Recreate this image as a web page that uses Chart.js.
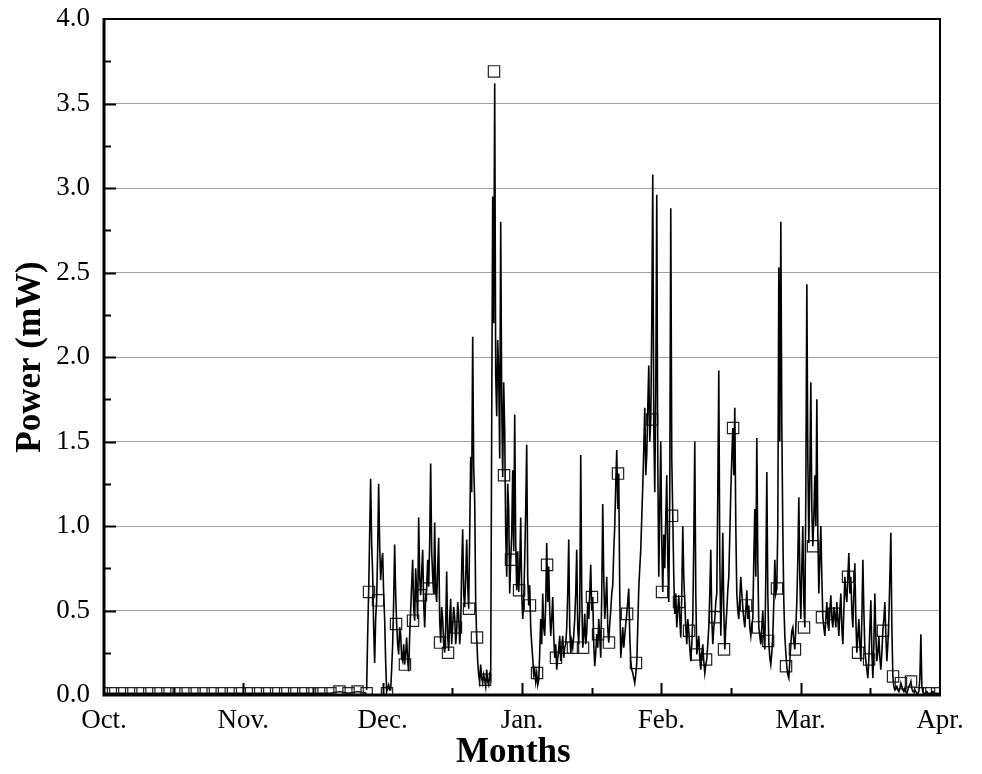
<!DOCTYPE html>
<html>
<head>
  <meta charset="utf-8">
  <title>Power (mW) by month</title>
  <script src="https://cdn.jsdelivr.net/npm/chart.js"></script>
  <style>
    html, body { margin: 0; padding: 0; background: #fff; }
    canvas { display: block; }
  </style>
</head>
<body>
  <canvas id="powerChart" width="982" height="774"></canvas>
  <script>
    // x axis is in months after 1 Oct (0 = Oct., 6 = Apr.)
    const monthLabels = ['Oct.', 'Nov.', 'Dec.', 'Jan.', 'Feb.', 'Mar.', 'Apr.'];

    // Oct.-Nov.: sensor idle, one sample every ~2 days (each one marked)
    const octNovStart = 0;
    const octNovStep = 0.065;
    const octNovPower = [
      0.01, 0.01, 0.01, 0.01, 0.01, 0.01, 0.01, 0.01, 0.01, 0.01,
      0.01, 0.01, 0.01, 0.01, 0.01, 0.01, 0.01, 0.01, 0.01, 0.01,
      0.01, 0.01, 0.01, 0.01, 0.01, 0.01, 0.02, 0.01, 0.02, 0.01
    ];

    // Dec.-Mar.: dense record, one sample every ~0.22 day
    const winterStart = 1.885;
    const winterStep = 0.00718;
    const winterPower = [
      0.03, 0.35, 0.61, 0.95, 1.28, 0.90, 0.72, 0.40, 0.19, 0.45,
      0.56, 0.85, 1.25, 0.90, 0.68, 0.78, 0.84, 0.60, 0.45, 0.20,
      0.02, 0.04, 0.06, 0.03, 0.03, 0.15, 0.30, 0.55, 0.89, 0.60,
      0.42, 0.30, 0.24, 0.40, 0.36, 0.22, 0.20, 0.30, 0.18, 0.25,
      0.34, 0.20, 0.14, 0.35, 0.50, 0.65, 0.80, 0.52, 0.44, 0.75,
      0.62, 0.45, 1.05, 0.70, 0.59, 0.72, 0.86, 0.55, 0.40, 0.58,
      0.63, 0.80, 0.64, 0.90, 1.37, 0.85, 0.70, 0.60, 1.02, 0.62,
      0.55, 0.75, 0.93, 0.45, 0.31, 0.52, 0.45, 0.30, 0.25, 0.40,
      0.73, 0.35, 0.26, 0.45, 0.57, 0.30, 0.41, 0.52, 0.46, 0.30,
      0.38, 0.55, 0.48, 0.30, 0.40, 0.75, 0.98, 0.60, 0.52, 0.70,
      0.92, 0.65, 0.51, 0.95, 1.41, 1.20, 2.12, 1.35, 1.15, 0.55,
      0.34, 0.20, 0.12, 0.08, 0.18, 0.10, 0.07, 0.12, 0.09, 0.05,
      0.15, 0.08, 0.06, 0.12, 0.10, 1.60, 2.95, 2.20, 3.62, 1.90,
      1.65, 2.10, 1.90, 1.40, 2.80, 1.75, 1.29, 1.85, 1.57, 0.95,
      0.70, 1.25, 1.10, 0.60, 0.80, 0.95, 1.33, 0.85, 1.66, 0.90,
      0.62, 0.85, 0.61, 0.75, 1.05, 0.60, 0.45, 0.55, 0.80, 1.10,
      1.48, 0.70, 0.53, 0.65, 0.40, 0.30, 0.22, 0.12, 0.15, 0.08,
      0.13, 0.06, 0.09, 0.25, 0.45, 0.30, 0.60, 0.40, 0.35, 0.55,
      0.90, 0.55, 0.76, 0.50, 0.35, 0.45, 0.58, 0.35, 0.22, 0.30,
      0.15, 0.22, 0.27, 0.35, 0.20, 0.28, 0.35, 0.22, 0.28, 0.30,
      0.40, 0.60, 0.92, 0.40, 0.25, 0.32, 0.28, 0.35, 0.45, 0.60,
      0.86, 0.40, 0.30, 0.50, 1.42, 0.60, 0.28, 0.35, 0.48, 0.30,
      0.37, 0.55, 0.45, 0.60, 0.77, 0.50, 0.58, 0.30, 0.17, 0.25,
      0.36, 0.28, 0.45, 0.35, 0.22, 0.60, 1.13, 0.70, 0.45, 0.55,
      0.70, 0.40, 0.31, 0.42, 0.50, 0.60, 0.65, 0.85, 1.00, 1.25,
      1.45, 1.10, 1.31, 0.60, 0.22, 0.30, 0.40, 0.28, 0.35, 0.42,
      0.48, 0.55, 0.63, 0.35, 0.20, 0.15, 0.13, 0.10, 0.07, 0.12,
      0.19, 0.40, 0.63, 0.75, 0.86, 1.05, 1.24, 1.45, 1.70, 1.30,
      1.42, 1.70, 1.95, 1.50, 1.63, 2.20, 3.08, 1.60, 1.20, 1.80,
      2.96, 1.40, 0.70, 1.10, 1.50, 0.90, 0.61, 0.95, 0.75, 1.05,
      1.30, 0.80, 0.55, 1.20, 2.88, 1.40, 1.06, 0.70, 0.48, 0.60,
      0.40, 0.50, 0.59, 0.45, 0.34, 0.60, 1.00, 0.70, 0.55, 0.40,
      0.30, 0.45, 0.38, 0.28, 0.20, 0.30, 0.45, 0.90, 1.50, 0.60,
      0.24, 0.30, 0.35, 0.22, 0.15, 0.25, 0.30, 0.20, 0.13, 0.18,
      0.21, 0.30, 0.40, 0.60, 0.86, 0.45, 0.30, 0.40, 0.45, 0.55,
      0.60, 1.20, 1.92, 0.80, 0.35, 0.60, 0.96, 0.50, 0.27, 0.40,
      0.50, 0.62, 0.70, 0.95, 1.20, 1.40, 1.58, 1.30, 1.70, 1.00,
      0.60, 0.50, 0.45, 0.58, 0.70, 0.60, 0.52, 0.45, 0.40, 0.50,
      0.62, 0.45, 0.53, 0.40, 0.35, 0.42, 0.45, 0.80, 1.10, 0.70,
      1.52, 0.80, 0.40, 0.35, 0.30, 0.40, 0.50, 0.35, 0.27, 0.70,
      1.32, 0.60, 0.31, 0.22, 0.18, 0.25, 0.35, 0.55, 0.80, 0.60,
      0.63, 1.00, 2.53, 1.50, 2.80, 1.60, 0.97, 0.55, 0.35, 0.25,
      0.17, 0.12, 0.10, 0.20, 0.30, 0.38, 0.40, 0.32, 0.27, 0.40,
      0.55, 0.80, 1.17, 0.70, 0.45, 0.75, 1.00, 0.55, 0.40, 1.20,
      2.43, 1.40, 0.90, 1.30, 1.85, 1.10, 0.88, 1.05, 1.30, 1.00,
      1.75, 0.95, 0.60, 0.80, 1.00, 0.70, 0.46, 0.40, 0.35, 0.45,
      0.55, 0.42, 0.38, 0.50, 0.59, 0.45, 0.40, 0.52, 0.47, 0.40,
      0.55, 0.45, 0.35, 0.50, 0.60, 0.40, 0.30, 0.50, 0.70, 0.60,
      0.55, 0.70, 0.84, 0.60, 0.70, 0.50, 0.40, 0.60, 0.78, 0.45,
      0.25, 0.35, 0.45, 0.30, 0.20, 0.45, 0.80, 0.50, 0.27, 0.20,
      0.15, 0.10, 0.21, 0.40, 0.56, 0.25, 0.10, 0.30, 0.60, 0.35,
      0.20, 0.25, 0.35, 0.22, 0.15, 0.25, 0.38, 0.45, 0.55, 0.35,
      0.20, 0.30, 0.45, 0.70, 0.96, 0.40, 0.11, 0.05, 0.03, 0.04,
      0.05, 0.03, 0.02, 0.04, 0.07, 0.05, 0.03, 0.02, 0.04, 0.02,
      0.01, 0.03, 0.05, 0.06, 0.08, 0.04, 0.02, 0.02, 0.03, 0.02,
      0.01, 0.01, 0.02, 0.10, 0.36, 0.05, 0.02, 0.01, 0.01, 0.01,
      0.02, 0.01, 0.01, 0.01, 0.01, 0.01, 0.02, 0.01, 0.01, 0.01,
      0.01, 0.01, 0.01
    ];

    // square symbols on the Dec.-Mar. record
    const markerMonth = [
      1.902, 1.967, 2.031, 2.096, 2.160, 2.218, 2.275, 2.333, 2.412, 2.469,
      2.526, 2.620, 2.677, 2.735, 2.799, 2.871, 2.921, 2.979, 3.057, 3.108,
      3.180, 3.244, 3.309, 3.366, 3.438, 3.502, 3.546, 3.624, 3.689, 3.754,
      3.818, 3.933, 4.005, 4.077, 4.127, 4.199, 4.256, 4.321, 4.386, 4.450,
      4.515, 4.608, 4.694, 4.766, 4.830, 4.895, 4.959, 5.024, 5.089, 5.153,
      5.240, 5.340, 5.412, 5.491, 5.591, 5.663, 5.720, 5.792, 5.857, 5.921,
      5.979
    ];
    const markerPower = [
      0.61, 0.56, 0.01, 0.42, 0.18, 0.44, 0.59, 0.63, 0.31, 0.25,
      0.40, 0.51, 0.34, 0.09, 3.69, 1.30, 0.80, 0.62, 0.53, 0.13,
      0.77, 0.22, 0.28, 0.28, 0.28, 0.58, 0.36, 0.31, 1.31, 0.48,
      0.19, 1.63, 0.61, 1.06, 0.55, 0.38, 0.24, 0.21, 0.46, 0.27,
      1.58, 0.53, 0.40, 0.32, 0.63, 0.17, 0.27, 0.40, 0.88, 0.46,
      0.48, 0.70, 0.25, 0.21, 0.38, 0.11, 0.07, 0.08, 0.01, 0.01,
      0.01
    ];

    const octNovData = octNovPower.map((p, i) => ({ x: octNovStart + i * octNovStep, y: p }));
    const winterData = winterPower.map((p, i) => ({ x: winterStart + i * winterStep, y: p }));
    const markerData = markerMonth.map((m, i) => ({ x: m, y: markerPower[i] }));

    const serif = "'Liberation Serif', 'Times New Roman', serif";

    // Origin-style frame with inward ticks
    const axisFrame = {
      id: 'axisFrame',
      afterDatasetsDraw(chart) {
        const { ctx, chartArea: a, scales: { x, y } } = chart;
        ctx.save();
        ctx.strokeStyle = '#000';
        ctx.lineWidth = 2;
        ctx.beginPath();
        for (let v = 0.25; v < 4; v += 0.25) {
          const py = Math.round(y.getPixelForValue(v)) + 0.5;
          const len = (v * 4) % 2 === 0 ? 12 : 7;
          ctx.moveTo(a.left, py);
          ctx.lineTo(a.left + len, py);
        }
        for (let m = 0.5; m < 6; m += 0.5) {
          const px = Math.round(x.getPixelForValue(m)) + 0.5;
          const len = (m * 2) % 2 === 0 ? 12 : 7;
          ctx.moveTo(px, a.bottom);
          ctx.lineTo(px, a.bottom - len);
        }
        ctx.stroke();

        ctx.lineWidth = 2;
        ctx.beginPath();
        ctx.moveTo(a.left, a.top);
        ctx.lineTo(a.right, a.top);
        ctx.lineTo(a.right, a.bottom);
        ctx.stroke();

        ctx.lineWidth = 3;
        ctx.beginPath();
        ctx.moveTo(a.left, a.top - 1);
        ctx.lineTo(a.left, a.bottom);
        ctx.lineTo(a.right + 1, a.bottom);
        ctx.stroke();
        ctx.restore();
      }
    };

    new Chart(document.getElementById('powerChart'), {
      type: 'line',
      data: {
        datasets: [
          {
            label: 'Dec.-Mar.',
            data: winterData,
            borderColor: '#000',
            borderWidth: 1.6,
            pointRadius: 0,
            tension: 0
          },
          {
            label: 'Oct.-Nov.',
            data: octNovData,
            borderColor: '#000',
            borderWidth: 1.4,
            pointStyle: 'rect',
            pointRadius: 8,
            pointBorderWidth: 1.2,
            pointBorderColor: '#222',
            pointBackgroundColor: 'rgba(0,0,0,0)',
            tension: 0
          },
          {
            label: 'symbols',
            data: markerData,
            showLine: false,
            pointStyle: 'rect',
            pointRadius: 8,
            pointBorderWidth: 1.2,
            pointBorderColor: '#222',
            pointBackgroundColor: 'rgba(0,0,0,0)'
          }
        ]
      },
      options: {
        responsive: false,
        animation: false,
        devicePixelRatio: 1,
        layout: { padding: { top: 19, right: 42, left: 0, bottom: 0 } },
        plugins: {
          legend: { display: false },
          tooltip: { enabled: false }
        },
        scales: {
          x: {
            type: 'linear',
            min: 0,
            max: 6,
            border: { display: false },
            grid: { display: false, drawTicks: false },
            ticks: {
              stepSize: 1,
              padding: 10,
              color: '#000',
              font: { family: serif, size: 27 },
              callback: v => monthLabels[v]
            },
            title: {
              display: true,
              text: 'Months\u2002',
              color: '#000',
              font: { family: serif, size: 35, weight: 'bold' },
              padding: { top: 0, bottom: 0 }
            },
            afterFit: scale => { scale.height = 79; }
          },
          y: {
            min: 0,
            max: 4,
            border: { display: false },
            grid: {
              drawTicks: false,
              lineWidth: 1,
              color: c => (c.tick.value === 0 || c.tick.value === 4) ? 'rgba(0,0,0,0)' : '#a0a0a0'
            },
            ticks: {
              stepSize: 0.5,
              padding: 14,
              color: '#000',
              font: { family: serif, size: 27 },
              callback: v => v.toFixed(1)
            },
            title: {
              display: true,
              text: 'Power (mW)',
              color: '#000',
              font: { family: serif, size: 35, weight: 'bold' },
              padding: { top: 10, bottom: 0 }
            },
            afterFit: scale => {
              scale.width = 104;
              scale.paddingTop = 0;
              scale.paddingBottom = 0;
            }
          }
        }
      },
      plugins: [axisFrame]
    });
  </script>
</body>
</html>
